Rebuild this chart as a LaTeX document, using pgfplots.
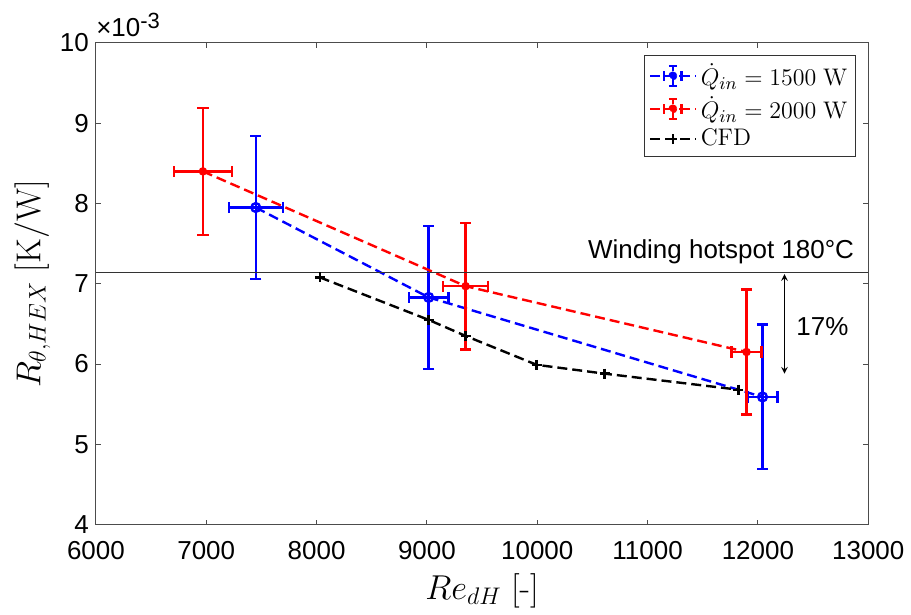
\documentclass[border=0pt]{standalone}
\usepackage{pgfplots}
\pgfplotsset{compat=1.18}
\usepackage{pgfplotstable}
\usepackage[no-math]{fontspec}
\setmainfont{Liberation Sans}

\pgfplotstableread{
x y ex ey
7449 7.95 245 0.89
9016 6.83 180 0.89
12042 5.59 136 0.90
}\blueD
\pgfplotstableread{
x y ex ey
6970 8.40 262 0.79
9351 6.97 204 0.79
11897 6.15 136 0.78
}\redD
\pgfplotstableread{
x y
8029 7.08
9016 6.55
9351 6.35
9995 5.99
10611 5.88
11824 5.68
}\cfdD

\tikzset{dsh/.style={dash pattern=on 5pt off 2.5pt}}
\newcommand\erricon[1]{%
  \draw[#1, line width=1.2pt, dsh] (0cm,0cm) -- (0.8cm,0cm);
  \draw[#1, line width=1.2pt] (0.4cm,-5pt) -- (0.4cm,5pt) (0.25cm,0cm) -- (0.55cm,0cm)
    (0.33cm,5pt) -- (0.47cm,5pt) (0.33cm,-5pt) -- (0.47cm,-5pt)
    (0.25cm,-2.5pt) -- (0.25cm,2.5pt) (0.55cm,-2.5pt) -- (0.55cm,2.5pt);
  \fill[#1] (0.4cm,0cm) circle (1.6pt);}

\begin{document}
\begin{tikzpicture}[font=\fontsize{13}{15}\selectfont]
\begin{axis}[
  name=ax,
  scale only axis, width=386.5pt, height=241pt,
  at={(0,0)}, anchor=south west,
  xmin=6000, xmax=13000, ymin=4, ymax=10,
  clip=false,
  xtick={6000,7000,...,13000}, ytick={4,5,...,10},
  scaled x ticks=false, scaled y ticks=false,
  /pgf/number format/assume math mode=true,
  /pgf/number format/1000 sep={},
  ticklabel style={font=\fontsize{13}{15}\selectfont},
  xticklabel style={yshift=-5pt},
  tick align=inside, major tick length=2.5pt,
  axis line style={black!70, line width=0.5pt},
  tick style={black!70, line width=0.5pt},
  xlabel={\fontsize{17}{19}\selectfont $Re_{dH}\ [\mathchar"002D]$},
  ylabel={\fontsize{17}{19}\selectfont $R_{\theta,HEX}\ [\mathrm{K/W}]$},
  ylabel style={yshift=-2pt},
  legend style={at={(1,1)}, anchor=north east, xshift=-6pt, yshift=-6pt,
    draw=black!80, line width=0.5pt, font=\fontsize{12.5}{15}\selectfont,
    inner sep=2pt, row sep=0pt},
  legend cell align=left,
]
\addplot[blue, line width=1.2pt, dsh, mark=o, mark size=2.2pt, mark options={solid},
  legend image code/.code={\erricon{blue}},
  error bars/.cd, x dir=both, x explicit, y dir=both, y explicit,
  error bar style={solid, line width=1.2pt},
  error mark options={solid, line width=1.2pt, mark size=2.8pt, rotate=90}]
  table[x=x, y=y, x error=ex, y error=ey] {\blueD};
\addlegendentry{$\dot{Q}_{in} = 1500\ \mathrm{W}$}
\addplot[red, line width=1.2pt, dsh, mark=*, mark size=1.5pt, mark options={solid},
  legend image code/.code={\erricon{red}},
  error bars/.cd, x dir=both, x explicit, y dir=both, y explicit,
  error bar style={solid, line width=1.2pt},
  error mark options={solid, line width=1.2pt, mark size=2.8pt, rotate=90}]
  table[x=x, y=y, x error=ex, y error=ey] {\redD};
\addlegendentry{$\dot{Q}_{in} = 2000\ \mathrm{W}$}
\addplot[black, line width=1.2pt, dsh, mark=+, mark size=2.5pt, mark options={solid},
  legend image code/.code={\draw[black, line width=1.2pt, dsh] (0cm,0cm) -- (0.8cm,0cm);
    \draw[black, line width=1.2pt] (0.4cm,-2.5pt) -- (0.4cm,2.5pt) (0.33cm,0cm) -- (0.47cm,0cm);}]
  table[x=x, y=y] {\cfdD};
\addlegendentry{$\mathrm{CFD}$}
\addplot[black!80, line width=0.6pt, forget plot] coordinates {(6000,7.14) (13000,7.14)};
\node[anchor=south east, inner sep=0pt] at (axis cs:12875,7.14) [yshift=4pt] {Winding hotspot 180°C};
\draw[<->, >=stealth, line width=0.5pt] (axis cs:12241,7.12) -- (axis cs:12241,5.88);
\node at (axis cs:12585,6.47) {17\%};
\end{axis}
\node[anchor=south west, inner sep=0pt] at (ax.north west) [yshift=3pt] {×10\raisebox{0.55ex}{\fontsize{11}{12}\selectfont -3}};
\path (-48pt,-44pt) rectangle (407.5pt,262.5pt);
\end{tikzpicture}
\end{document}
